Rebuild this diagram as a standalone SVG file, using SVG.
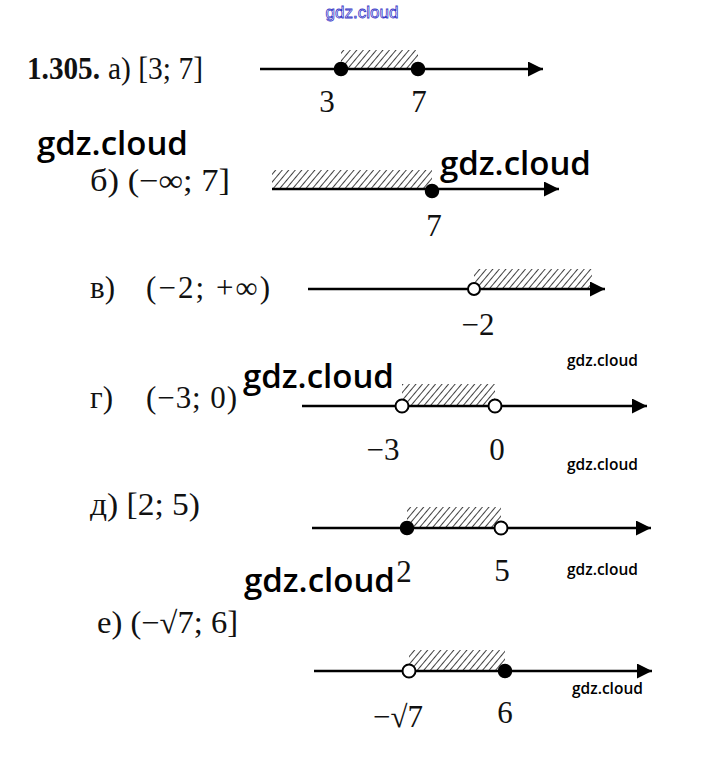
<svg xmlns="http://www.w3.org/2000/svg" width="724" height="759" viewBox="0 0 724 759">
<defs>
<pattern id="hatch" patternUnits="userSpaceOnUse" width="5" height="5" patternTransform="rotate(40)">
<line x1="0" y1="0" x2="0" y2="5" stroke="#111" stroke-width="1.6"/>
</pattern>
<marker id="arr" viewBox="0 0 10 10" refX="10" refY="5" markerWidth="15" markerHeight="15" markerUnits="userSpaceOnUse" orient="auto">
<path d="M0,0 L10,5 L0,10 z" fill="#000"/>
</marker>
</defs>
<style>
.m{font-family:"Liberation Serif",serif;font-size:31px;fill:#111}
.wm{font-family:"Open Sans","Noto Sans",sans-serif;font-weight:600;fill:#000}
.ax{stroke:#000;stroke-width:2.5;fill:none}
.h{fill:url(#hatch)}
.f{fill:#000;stroke:#000;stroke-width:1.5}
.o{fill:#fff;stroke:#000;stroke-width:2}
</style>
<rect width="724" height="759" fill="#fff"/>
<text x="362" y="18" text-anchor="middle" style="font-family:'Liberation Sans',sans-serif;font-size:17px;fill:#fff;stroke:#3838c8;stroke-width:0.8">gdz.cloud</text>

<g id="a">
<text class="m" x="27" y="79" font-weight="bold" textLength="73" lengthAdjust="spacingAndGlyphs">1.305.</text>
<text class="m" x="108" y="79" textLength="95" lengthAdjust="spacingAndGlyphs">а) [3; 7]</text>
<rect class="h" x="341" y="50" width="77" height="19"/>
<line class="ax" x1="260" y1="69" x2="543" y2="69" marker-end="url(#arr)"/>
<circle class="f" cx="341" cy="69" r="6.5"/>
<circle class="f" cx="418" cy="69" r="6.5"/>
<text class="m" x="327" y="112" text-anchor="middle">3</text>
<text class="m" x="419" y="112" text-anchor="middle">7</text>
</g>

<g id="b">
<text class="m" x="90" y="191" textLength="140" lengthAdjust="spacingAndGlyphs">б) (−∞; 7]</text>
<rect class="h" x="272" y="170" width="160" height="19"/>
<line class="ax" x1="272" y1="189" x2="559" y2="189" marker-end="url(#arr)"/>
<circle class="f" cx="432" cy="191" r="6.5"/>
<text class="m" x="434" y="236" text-anchor="middle">7</text>
</g>

<g id="v">
<text class="m" x="90" y="298">в)</text>
<text class="m" x="146" y="298" textLength="124" lengthAdjust="spacing">(−2; +∞)</text>
<rect class="h" x="474" y="269" width="118" height="20"/>
<line class="ax" x1="308" y1="289" x2="605" y2="289" marker-end="url(#arr)"/>
<circle class="o" cx="474" cy="289" r="6"/>
<text class="m" x="478" y="335" text-anchor="middle">−2</text>
</g>

<g id="g">
<text class="m" x="90" y="408">г)</text>
<text class="m" x="146" y="408" textLength="91" lengthAdjust="spacing">(−3; 0)</text>
<rect class="h" x="402" y="384" width="93" height="22"/>
<line class="ax" x1="302" y1="406" x2="647" y2="406" marker-end="url(#arr)"/>
<circle class="o" cx="402" cy="406" r="6.5"/>
<circle class="o" cx="495" cy="406" r="6.5"/>
<text class="m" x="383" y="460" text-anchor="middle">−3</text>
<text class="m" x="497" y="460" text-anchor="middle">0</text>
</g>

<g id="d">
<text class="m" x="90" y="515" textLength="110" lengthAdjust="spacingAndGlyphs">д) [2; 5)</text>
<rect class="h" x="407" y="507" width="94" height="21"/>
<line class="ax" x1="312" y1="528" x2="651" y2="528" marker-end="url(#arr)"/>
<circle class="f" cx="407" cy="528" r="6.5"/>
<circle class="o" cx="501" cy="528" r="6.5"/>
<text class="m" x="404" y="582" text-anchor="middle">2</text>
<text class="m" x="502" y="581" text-anchor="middle">5</text>
</g>

<g id="e">
<text class="m" x="97" y="633" textLength="141" lengthAdjust="spacingAndGlyphs">е) (−√7; 6]</text>
<rect class="h" x="409" y="650" width="96" height="21"/>
<line class="ax" x1="314" y1="671" x2="652" y2="671" marker-end="url(#arr)"/>
<circle class="o" cx="409" cy="671" r="6.5"/>
<circle class="f" cx="505" cy="671" r="6.5"/>
<text class="m" x="398" y="727" text-anchor="middle">−√7</text>
<text class="m" x="505" y="723" text-anchor="middle">6</text>
</g>

<g id="watermarks">
<text class="wm" x="37" y="155" font-size="33">gdz.cloud</text>
<text class="wm" x="440" y="175" font-size="33">gdz.cloud</text>
<text class="wm" x="243" y="388" font-size="33">gdz.cloud</text>
<text class="wm" x="244" y="592" font-size="33">gdz.cloud</text>
<text class="wm" x="567" y="366" font-size="15.5">gdz.cloud</text>
<text class="wm" x="567" y="470" font-size="15.5">gdz.cloud</text>
<text class="wm" x="567" y="575" font-size="15.5">gdz.cloud</text>
<text class="wm" x="572" y="694" font-size="15.5">gdz.cloud</text>
</g>
</svg>
